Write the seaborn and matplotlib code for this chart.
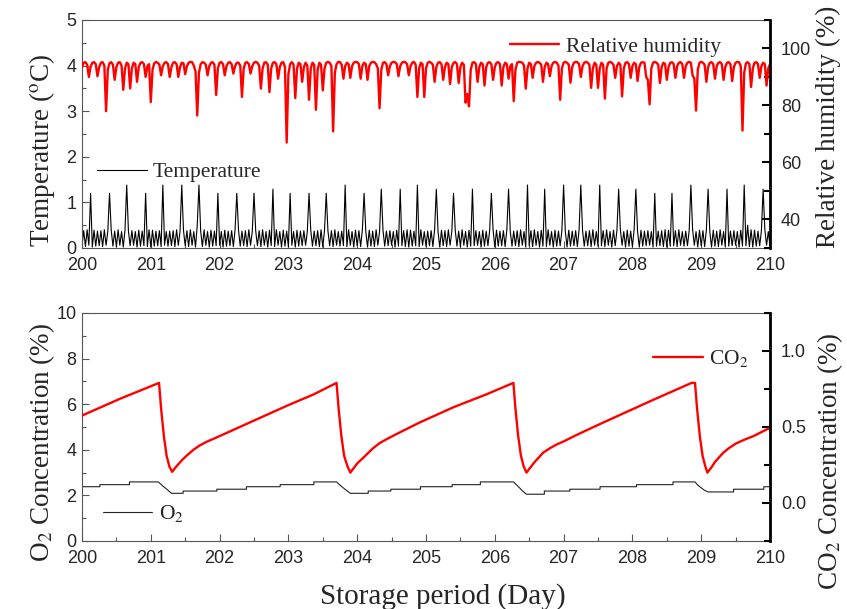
import numpy as np
import pandas as pd
import seaborn as sns
import matplotlib.pyplot as plt
from matplotlib.ticker import MultipleLocator, FormatStrFormatter

# logger samples, every 0.025 day
days = np.linspace(200, 210, 401)

temperature = [
    0.05, 0.38, 0.03, 0.40, 0.06, 1.20, 0.02, 0.39, 0.04, 0.37,
    0.05, 0.38, 0.03, 0.40, 0.06, 0.36, 1.20, 0.39, 0.04, 0.37,
    0.03, 0.40, 0.06, 0.36, 0.02, 0.39, 1.38, 0.37, 0.05, 0.38,
    0.06, 0.36, 0.02, 0.39, 0.04, 0.37, 0.05, 1.20, 0.03, 0.40,
    0.02, 0.39, 0.04, 0.37, 0.05, 0.38, 0.03, 1.38, 0.06, 0.36,
    0.04, 0.37, 0.05, 0.38, 0.03, 0.40, 0.06, 0.36, 1.38, 0.39,
    0.05, 0.38, 0.03, 0.40, 0.06, 0.36, 0.02, 0.50, 1.38, 0.37,
    0.03, 0.40, 0.06, 0.36, 0.02, 0.39, 0.04, 0.37, 0.05, 1.20,
    0.06, 0.36, 0.02, 0.39, 0.04, 0.37, 0.05, 0.38, 0.03, 0.40,
    1.20, 0.39, 0.04, 0.37, 0.05, 0.38, 0.03, 0.40, 0.06, 0.36,
    1.20, 0.37, 0.05, 0.38, 0.03, 0.40, 0.06, 0.36, 0.02, 0.39,
    0.05, 1.29, 0.03, 0.40, 0.06, 0.36, 0.02, 0.39, 0.04, 0.37,
    0.03, 1.20, 0.06, 0.36, 0.02, 0.39, 0.04, 0.37, 0.05, 0.38,
    0.06, 0.36, 1.20, 0.39, 0.04, 0.37, 0.05, 0.38, 0.03, 0.40,
    0.02, 0.39, 1.20, 0.37, 0.05, 0.38, 0.03, 0.40, 0.06, 0.36,
    0.04, 0.37, 0.05, 1.38, 0.03, 0.40, 0.06, 0.36, 0.02, 0.39,
    0.05, 0.38, 0.03, 0.40, 1.20, 0.36, 0.02, 0.39, 0.04, 0.37,
    0.03, 0.40, 0.06, 0.36, 1.29, 0.39, 0.04, 0.37, 0.05, 0.38,
    0.06, 0.36, 0.02, 0.39, 0.04, 1.29, 0.05, 0.38, 0.03, 0.40,
    0.02, 0.39, 0.04, 0.37, 0.05, 1.38, 0.03, 0.40, 0.06, 0.36,
    0.04, 0.37, 0.05, 0.38, 0.03, 0.40, 1.29, 0.36, 0.02, 0.39,
    0.05, 0.38, 0.03, 0.40, 0.06, 0.36, 1.20, 0.39, 0.04, 0.37,
    0.03, 0.40, 0.06, 0.36, 0.02, 0.39, 0.04, 1.29, 0.05, 0.38,
    0.06, 0.36, 0.02, 0.39, 0.04, 0.37, 0.05, 0.38, 1.20, 0.40,
    0.02, 0.39, 0.04, 0.37, 0.05, 0.38, 0.03, 0.40, 1.29, 0.36,
    0.04, 0.37, 0.05, 0.38, 0.03, 0.40, 0.06, 0.36, 0.02, 1.38,
    0.05, 0.38, 0.03, 0.40, 0.06, 0.36, 0.02, 0.39, 0.04, 1.29,
    0.03, 0.40, 0.06, 0.36, 0.02, 0.39, 0.04, 0.37, 0.05, 0.38,
    1.38, 0.36, 0.02, 0.39, 0.04, 0.37, 0.05, 0.38, 0.03, 0.40,
    1.38, 0.39, 0.04, 0.37, 0.05, 0.38, 0.03, 0.40, 0.06, 0.36,
    0.04, 1.38, 0.05, 0.38, 0.03, 0.40, 0.06, 0.36, 0.02, 0.39,
    0.05, 0.38, 1.29, 0.40, 0.06, 0.36, 0.02, 0.39, 0.04, 0.37,
    0.03, 0.40, 1.29, 0.36, 0.02, 0.39, 0.04, 0.37, 0.05, 0.38,
    0.06, 0.36, 0.02, 1.20, 0.04, 0.37, 0.05, 0.38, 0.03, 0.40,
    0.02, 0.39, 0.04, 1.20, 0.05, 0.38, 0.03, 0.40, 0.06, 0.36,
    0.04, 0.37, 0.05, 0.38, 1.38, 0.40, 0.06, 0.36, 0.02, 0.39,
    0.05, 0.38, 0.03, 0.40, 1.29, 0.36, 0.02, 0.39, 0.04, 0.37,
    0.03, 0.40, 0.06, 0.36, 0.02, 1.29, 0.04, 0.37, 0.05, 0.38,
    0.06, 0.36, 0.02, 0.39, 0.04, 1.38, 0.05, 0.50, 0.03, 0.40,
    0.02, 0.39, 0.04, 0.37, 0.05, 0.38, 1.29, 0.40, 0.06, 0.36,
    0.04,
]

humidity = [
    93.5, 95.0, 95.2, 94.3, 90.0, 93.5, 95.0, 95.2, 94.5, 90.3,
    93.5, 95.0, 95.2, 94.0, 78.0, 92.5, 94.8, 95.2, 94.3, 89.0,
    93.5, 95.0, 95.2, 94.0, 85.5, 93.0, 95.0, 94.5, 86.0, 93.0,
    95.0, 94.5, 88.3, 93.5, 95.0, 95.2, 94.5, 90.0, 93.8, 94.5,
    81.2, 92.5, 94.8, 95.3, 95.0, 94.3, 90.6, 93.8, 95.0, 95.2,
    94.5, 90.0, 93.5, 95.0, 95.2, 94.5, 90.0, 93.5, 95.0, 94.8,
    91.0, 93.8, 95.0, 95.3, 95.2, 94.0, 92.0, 76.5, 91.5, 94.5,
    95.2, 95.0, 94.3, 90.6, 93.8, 95.0, 95.2, 94.3, 83.7, 93.0,
    95.0, 95.2, 94.5, 90.6, 93.8, 95.0, 95.2, 94.5, 91.2, 93.8,
    95.0, 95.0, 94.0, 83.0, 93.0, 95.0, 95.2, 94.5, 91.2, 93.8,
    95.0, 95.3, 95.0, 94.0, 85.9, 93.0, 95.0, 95.2, 94.3, 84.7,
    93.0, 95.0, 95.2, 94.5, 89.4, 93.5, 95.0, 95.2, 93.5, 67.0,
    91.0, 94.5, 95.2, 94.3, 82.6, 93.0, 95.0, 94.5, 88.3, 93.5,
    95.0, 94.0, 82.0, 93.0, 95.0, 94.3, 78.5, 92.5, 95.0, 94.3,
    85.3, 93.0, 95.0, 95.3, 95.0, 93.8, 70.9, 91.5, 94.5, 95.3,
    95.2, 94.3, 89.4, 93.8, 95.0, 94.5, 89.7, 93.8, 95.0, 95.3,
    95.2, 94.5, 89.4, 93.8, 95.0, 94.5, 89.0, 93.8, 95.0, 95.3,
    95.2, 94.5, 93.0, 79.0, 92.5, 95.0, 95.2, 94.5, 90.6, 93.8,
    95.0, 95.3, 95.2, 94.5, 90.3, 93.8, 95.0, 95.3, 95.2, 94.5,
    90.6, 93.8, 95.0, 95.3, 94.3, 83.0, 93.0, 95.0, 94.5, 83.0,
    93.0, 95.0, 95.3, 95.0, 94.3, 88.3, 93.5, 95.0, 95.2, 94.5,
    89.0, 93.5, 95.0, 94.5, 87.5, 93.5, 95.0, 95.2, 94.5, 87.9,
    93.5, 95.0, 94.3, 81.0, 84.0, 79.7, 92.5, 95.0, 95.2, 94.5,
    88.3, 93.5, 95.0, 94.5, 87.0, 93.5, 95.0, 95.2, 94.5, 89.0,
    93.5, 95.0, 95.2, 94.5, 87.0, 93.5, 95.0, 94.5, 89.4, 93.8,
    94.5, 81.5, 92.5, 95.0, 95.3, 95.2, 95.0, 94.0, 85.9, 93.0,
    95.0, 94.5, 89.7, 93.8, 95.0, 95.3, 95.0, 94.3, 88.3, 93.5,
    95.0, 94.5, 90.3, 93.8, 95.0, 95.3, 95.0, 94.0, 82.0, 93.0,
    95.0, 95.3, 95.0, 94.3, 88.0, 93.5, 95.0, 95.3, 95.2, 94.5,
    90.0, 93.8, 95.0, 95.3, 95.0, 94.3, 86.2, 93.0, 95.0, 94.3,
    86.2, 93.0, 95.0, 94.3, 82.4, 93.0, 95.0, 95.3, 95.0, 94.3,
    89.7, 93.8, 95.0, 94.3, 83.2, 93.0, 95.0, 95.2, 94.5, 89.7,
    93.8, 95.0, 94.5, 88.6, 93.5, 95.0, 95.2, 95.0, 90.0, 89.0,
    80.4, 93.0, 95.0, 95.3, 95.0, 94.3, 87.9, 93.5, 95.0, 94.5,
    89.0, 93.5, 95.0, 95.2, 94.5, 89.7, 93.8, 95.0, 95.2, 94.5,
    89.7, 93.8, 95.0, 95.3, 95.0, 90.5, 89.5, 78.2, 92.5, 95.0,
    95.3, 95.0, 94.3, 88.3, 93.5, 95.0, 95.2, 94.5, 89.4, 93.8,
    95.0, 95.2, 94.5, 89.0, 93.5, 95.0, 95.2, 94.5, 88.6, 93.5,
    95.0, 95.3, 95.2, 93.8, 71.2, 91.5, 94.8, 95.2, 94.5, 86.5,
    93.0, 95.0, 95.2, 94.5, 89.7, 93.8, 95.0, 94.5, 87.0, 93.0,
    94.5,
]

co2_day = [200.0, 200.55, 201.12, 201.15, 201.19, 201.23, 201.27, 201.31,
           201.38, 201.45, 201.53, 201.62, 201.71, 201.8, 201.9, 202.0, 202.49, 202.98, 203.37, 203.70,
           203.73, 203.77, 203.81, 203.86, 203.90,
           203.95, 204.0, 204.07, 204.14, 204.23, 204.33, 204.45, 204.6, 204.91, 205.40, 205.88, 206.27,
           206.30, 206.34, 206.38, 206.42, 206.46,
           206.52, 206.58, 206.64, 206.70, 206.8, 206.9, 207.0, 207.2, 207.58, 208.31, 208.86, 208.91,
           208.94, 208.98, 209.02, 209.06, 209.09,
           209.15, 209.2, 209.26, 209.32, 209.4, 209.5, 209.62, 209.76, 210.0]
co2_pct = [0.575, 0.685, 0.79, 0.62, 0.44, 0.31, 0.24, 0.205,
           0.245, 0.28, 0.315, 0.35, 0.378, 0.40, 0.42, 0.44, 0.54, 0.64, 0.715, 0.79,
           0.62, 0.44, 0.31, 0.24, 0.20,
           0.23, 0.26, 0.29, 0.32, 0.36, 0.395, 0.425, 0.46, 0.53, 0.63, 0.715, 0.79,
           0.62, 0.44, 0.31, 0.24, 0.20,
           0.235, 0.27, 0.30, 0.33, 0.36, 0.385, 0.405, 0.45, 0.53, 0.68, 0.79, 0.79,
           0.62, 0.44, 0.31, 0.24, 0.20,
           0.235, 0.27, 0.30, 0.33, 0.36, 0.39, 0.415, 0.44, 0.495]

o2_day = [200.0, 200.26, 200.26, 200.69, 200.69, 201.11, 201.16, 201.20, 201.24, 201.30,
          201.47, 201.47, 201.96, 201.96, 202.39, 202.39, 202.88, 202.88, 203.37, 203.37,
          203.70, 203.75, 203.79, 203.83, 203.90, 204.16, 204.16, 204.49, 204.49, 204.92,
          204.92, 205.38, 205.38, 205.79, 205.79, 206.27, 206.32, 206.36, 206.40, 206.46,
          206.72, 206.72, 207.09, 207.09, 207.53, 207.53, 208.06, 208.06, 208.59, 208.59,
          208.91, 208.95, 209.00, 209.05, 209.10, 209.47, 209.47, 209.91, 209.91, 210.0]
o2_pct = [2.38, 2.38, 2.47, 2.47, 2.59, 2.59, 2.45, 2.35, 2.25, 2.09,
          2.09, 2.19, 2.19, 2.27, 2.27, 2.38, 2.38, 2.47, 2.47, 2.59,
          2.59, 2.45, 2.35, 2.25, 2.09, 2.09, 2.19, 2.19, 2.27, 2.27,
          2.38, 2.38, 2.47, 2.47, 2.59, 2.59, 2.45, 2.33, 2.20, 2.05,
          2.05, 2.19, 2.19, 2.27, 2.27, 2.38, 2.38, 2.47, 2.47, 2.59,
          2.59, 2.45, 2.33, 2.22, 2.15, 2.15, 2.27, 2.27, 2.38, 2.38]

top = pd.DataFrame({'day': days, 'temp': temperature, 'rh': humidity})
co2 = pd.DataFrame({'day': co2_day, 'co2': co2_pct})
o2 = pd.DataFrame({'day': o2_day, 'o2': o2_pct})

sns.set_style('ticks', {'xtick.direction': 'in', 'ytick.direction': 'in'})
plt.rcParams['font.family'] = ['Liberation Serif', 'DejaVu Serif']
plt.rcParams['mathtext.fontset'] = 'stix'

fig = plt.figure(figsize=(8.47, 6.09), dpi=100)
ax1 = fig.add_axes([0.0968, 0.5928, 0.8123, 0.3744])
ax1r = ax1.twinx()
ax2 = fig.add_axes([0.0968, 0.1117, 0.8123, 0.3744])
ax2r = ax2.twinx()

sns.lineplot(data=top, x='day', y='temp', ax=ax1, color='black', lw=0.8,
             label='Temperature', legend=False)
sns.lineplot(data=top, x='day', y='rh', ax=ax1r, color='#ff0000', lw=1.7,
             label='Relative humidity', legend=False)
sns.lineplot(data=o2, x='day', y='o2', ax=ax2, color='#222222', lw=0.8,
             estimator=None, sort=False, label='O$_2$', legend=False)
sns.lineplot(data=co2, x='day', y='co2', ax=ax2r, color='#ff0000', lw=1.7,
             estimator=None, sort=False, label='CO$_2$', legend=False)

gray = '#555555'
for ax, axr in [(ax1, ax1r), (ax2, ax2r)]:
    ax.set_xlim(200, 210)
    ax.xaxis.set_major_locator(MultipleLocator(1))
    ax.xaxis.set_minor_locator(MultipleLocator(0.5))
    for s in ['left', 'top', 'bottom']:
        ax.spines[s].set_color(gray)
        ax.spines[s].set_linewidth(0.8)
        axr.spines[s].set_visible(False)
    ax.spines['right'].set_visible(False)
    axr.spines['right'].set_color('black')
    axr.spines['right'].set_linewidth(2)
    ax.tick_params(which='both', direction='in', color=gray, labelsize=13,
                   labelfontfamily='Liberation Sans')
    ax.tick_params(axis='y', pad=4)
    ax.tick_params(axis='x', pad=6.5)
    ax.tick_params(which='major', length=5, width=0.8)
    ax.tick_params(which='minor', length=3, width=0.8)
    ax.tick_params(axis='x', which='both', top=False)
    axr.tick_params(which='both', direction='in', color='black', labelsize=13,
                    labelfontfamily='Liberation Sans', width=1.5, pad=8)
    axr.tick_params(which='major', length=6)
    axr.tick_params(which='minor', length=4)
    ax.set_xlabel('')

ax1.set_ylim(0, 5)
ax1.yaxis.set_major_locator(MultipleLocator(1))
ax1.yaxis.set_minor_locator(MultipleLocator(0.5))
ax1r.set_ylim(30, 110)
ax1r.set_yticks([40, 60, 80, 100])
ax1r.yaxis.set_minor_locator(MultipleLocator(10))

ax2.set_ylim(0, 10)
ax2.yaxis.set_major_locator(MultipleLocator(2))
ax2.yaxis.set_minor_locator(MultipleLocator(1))
ax2r.set_ylim(-0.25, 1.25)
ax2r.set_yticks([0, 0.5, 1.0])
ax2r.yaxis.set_major_formatter(FormatStrFormatter('%.1f'))
ax2r.yaxis.set_minor_locator(MultipleLocator(0.25))

lab = dict(fontsize=19.5)
ax1.set_ylabel('Temperature ($^{\\mathrm{o}}$C)', **lab)
ax1r.set_ylabel('Relative humidity (%)', **lab)
ax2.set_ylabel('O$_2$ Concentration (%)', **lab)
ax2r.set_ylabel('CO$_2$ Concentration (%)', **lab)
ax2.set_xlabel('Storage period (Day)', fontsize=21)

# label placement as in the original figure
ax1.yaxis.set_label_coords(-0.037, 0.43)
ax1r.yaxis.set_label_coords(1.066, 0.53)
ax2.yaxis.set_label_coords(-0.037, 0.434)
ax2r.yaxis.set_label_coords(1.066, 0.35)
ax2.xaxis.set_label_coords(0.525, -0.185)

leg = dict(frameon=False, fontsize=15.5, handlelength=2.3, handletextpad=0.3,
           borderpad=0, borderaxespad=0, loc='center left')
ax1r.legend(bbox_to_anchor=(0.622, 0.882), **leg)
ax1.legend(bbox_to_anchor=(0.022, 0.333), **leg)
ax2r.legend(bbox_to_anchor=(0.830, 0.80), **leg)
ax2.legend(bbox_to_anchor=(0.030, 0.12), **leg)

fig.savefig('out.png', dpi=100)
